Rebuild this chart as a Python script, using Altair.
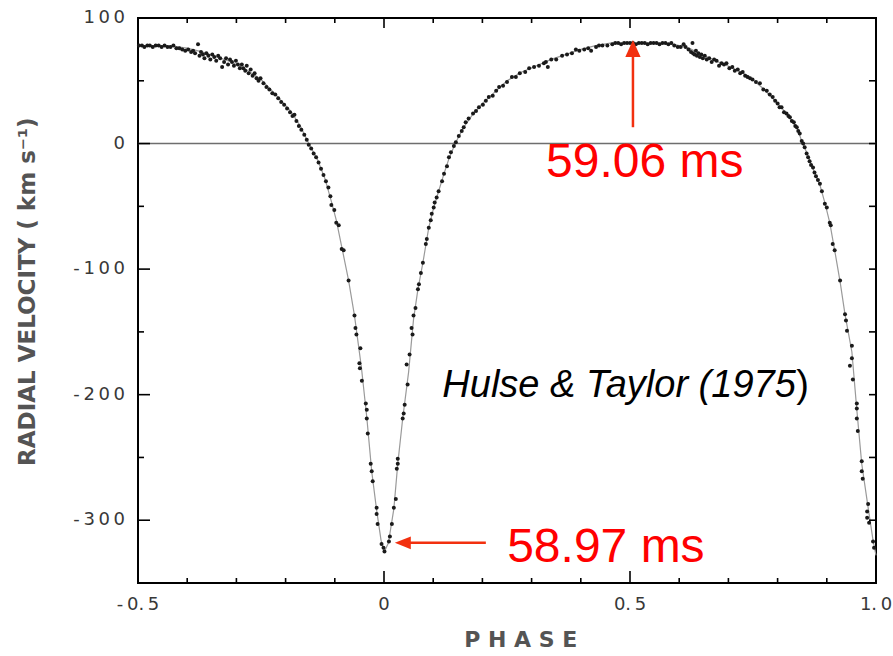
import altair as alt
import pandas as pd

# Observed radial velocities (km/s) against orbital phase
obs_phase = [
    -0.498, -0.492, -0.487, -0.481, -0.476, -0.470, -0.464, -0.458, -0.452, -0.446,
    -0.440, -0.434, -0.428, -0.422, -0.416,
    -0.410, -0.404, -0.398, -0.392, -0.388, -0.384, -0.378, -0.375, -0.372, -0.368,
    -0.365, -0.361, -0.357, -0.353, -0.349, -0.345, -0.341, -0.337, -0.333, -0.329,
    -0.325, -0.321, -0.317, -0.313, -0.309, -0.305, -0.301, -0.297, -0.293, -0.289,
    -0.286, -0.282, -0.279, -0.275, -0.271, -0.267, -0.263, -0.259, -0.255, -0.251,
    -0.245, -0.239, -0.233, -0.227, -0.221, -0.215, -0.209, -0.203, -0.197, -0.191,
    -0.186, -0.182, -0.178, -0.173, -0.168, -0.162, -0.157, -0.153,
    -0.148, -0.143, -0.138, -0.133, -0.128, -0.123, -0.118, -0.113, -0.109, -0.107,
    -0.101, -0.097, -0.092, -0.086, -0.082, -0.072, -0.060, -0.058, -0.056, -0.048,
    -0.050, -0.049, -0.045, -0.037, -0.035, -0.035, -0.033, -0.027, -0.025, -0.023,
    -0.015, -0.015, -0.013, -0.005, -0.001, 0.001,
    0.010, 0.012, 0.016, 0.020, 0.024, 0.026, 0.028, 0.028, 0.038, 0.040,
    0.042, 0.048, 0.046, 0.052, 0.056, 0.058, 0.060, 0.064, 0.069, 0.071,
    0.075, 0.079, 0.085, 0.087, 0.091, 0.095, 0.097, 0.101, 0.103, 0.107,
    0.111, 0.118, 0.122, 0.128, 0.132, 0.136, 0.142, 0.146, 0.152, 0.158,
    0.162, 0.166, 0.172, 0.181, 0.187, 0.193, 0.201, 0.207, 0.213, 0.221,
    0.228, 0.234, 0.242, 0.250, 0.260, 0.268, 0.276, 0.287, 0.295, 0.305,
    0.315, 0.325, 0.329, 0.333, 0.340, 0.350, 0.362, 0.372, 0.382, 0.390,
    0.397, 0.407, 0.415, 0.421, 0.431, 0.437, 0.444, 0.454, 0.464,
    0.470, 0.476, 0.482, 0.488, 0.494, 0.500, 0.506, 0.512, 0.518, 0.524,
    0.530, 0.536, 0.542, 0.548, 0.554, 0.560, 0.566, 0.572, 0.578, 0.584,
    0.590, 0.597, 0.603, 0.609,
    0.613, 0.619, 0.624, 0.627, 0.628, 0.631, 0.634, 0.636, 0.639, 0.642,
    0.645, 0.648, 0.652, 0.656, 0.661, 0.666, 0.671, 0.676, 0.681, 0.686,
    0.691, 0.696, 0.702, 0.708, 0.713, 0.719, 0.724, 0.729, 0.734, 0.739,
    0.744, 0.749, 0.756, 0.764, 0.771, 0.778, 0.784, 0.790, 0.795, 0.800,
    0.804, 0.808, 0.813, 0.818, 0.822, 0.825, 0.829, 0.833, 0.836, 0.839,
    0.842, 0.845, 0.849, 0.852, 0.855, 0.859, 0.862, 0.865, 0.868, 0.872,
    0.875, 0.878, 0.882, 0.886, 0.890, 0.896, 0.900, 0.906, 0.908, 0.912,
    0.916, 0.927, 0.937, 0.939, 0.941, 0.951, 0.951, 0.947, 0.953, 0.961,
    0.961, 0.961, 0.963, 0.971, 0.971, 0.973, 0.984, 0.982, 0.982, 0.986,
    0.994, 0.996,
]
obs_vel = [
    78, 78, 77, 78, 78, 77, 78, 78, 77, 78,
    77, 77, 78, 76, 76,
    75, 74, 75, 73, 74, 72, 79, 70, 73, 71,
    68, 72, 70, 67, 71, 69, 66, 70, 68, 61,
    65, 68, 63, 67, 65, 62, 66, 63, 60, 63,
    60, 58, 62, 56, 59, 54, 56, 52, 50, 52,
    48, 45, 43, 40, 39, 36, 33, 31, 28, 25,
    22, 23, 18, 14, 11, 7, 3, -1,
    -4, -8, -11, -15, -20, -25, -30, -35, -42, -49,
    -53, -63, -65, -84, -85, -109, -137, -147, -152, -163,
    -175, -179, -189, -207, -212, -219, -231, -255, -261, -269,
    -290, -295, -303, -319, -322, -325,
    -317, -313, -303, -290, -283, -259, -251, -255, -219, -215,
    -208, -192, -176, -168, -147, -152, -137, -131, -116, -112,
    -103, -95, -80, -76, -67, -61, -56, -51, -47, -43,
    -38, -30, -24, -18, -11, -7, -2, 1, 6, 10,
    13, 17, 20, 24, 26, 29, 31, 34, 37, 38,
    42, 45, 46, 49, 53, 53, 56, 57, 60, 61,
    62, 64, 65, 61, 67, 67, 70, 71, 72, 75,
    74, 75, 76, 74, 77, 78, 78, 78, 79,
    80, 80, 79, 80, 80, 80, 80, 79, 80, 80,
    80, 79, 80, 80, 80, 79, 80, 80, 79, 80,
    78, 77, 77, 79,
    77, 75, 73, 80, 72, 71, 74, 70, 72, 69,
    71, 68, 70, 67, 68, 65, 67, 66, 62, 64,
    63, 64, 60, 61, 58, 59, 56, 57, 54, 53,
    52, 51, 49, 48, 43, 42, 39, 37, 34, 32,
    29, 29, 25, 24, 22, 21, 18, 17, 14, 13,
    10, 8, 2, 0, -3, -8, -11, -14, -17, -19,
    -23, -26, -29, -32, -38, -48, -51, -63, -65, -80,
    -85, -109, -136, -141, -149, -161, -171, -177, -188, -207,
    -211, -219, -229, -253, -261, -267, -287, -293, -298, -302,
    -317, -322,
]

# Fitted velocity curve
curve_phase = [
    -0.500, -0.440, -0.400, -0.370, -0.340, -0.310, -0.280, -0.250, -0.220, -0.190,
    -0.170, -0.153, -0.135, -0.120, -0.107, -0.097, -0.086, -0.072, -0.060, -0.046,
    -0.035, -0.025, -0.015, -0.006, 0.001, 0.009, 0.020, 0.028, 0.038, 0.050,
    0.060, 0.069, 0.079, 0.091, 0.101, 0.111, 0.122, 0.132, 0.146, 0.162,
    0.180, 0.200, 0.225, 0.250, 0.280, 0.310, 0.340, 0.370, 0.400, 0.430,
    0.460, 0.500, 0.560, 0.590, 0.620, 0.650, 0.680, 0.710, 0.740, 0.770,
    0.800, 0.820, 0.840, 0.849, 0.860, 0.872, 0.886, 0.896, 0.906, 0.916,
    0.927, 0.937, 0.951, 0.961, 0.971, 0.984, 0.994, 1.000,
]
curve_vel = [
    78, 78, 76, 73, 69, 65, 59, 51, 39, 26,
    14, 0, -13, -28, -46, -61, -82, -109, -137, -178,
    -218, -261, -292, -316, -325, -318, -291, -255, -219, -182,
    -140, -116, -95, -67, -51, -38, -24, -12, 1, 13,
    23, 32, 41, 50, 57, 62, 67, 71, 75, 78,
    80, 80, 80, 79, 76, 70, 65, 60, 54, 44,
    32, 23, 12, 2, -8, -20, -33, -47, -63, -85,
    -110, -136, -166, -212, -255, -290, -316, -328,
]

# Frame ticks and axis labels (thin spaces give the lettered look of the tick labels)
x_minor = [-0.4, -0.3, -0.2, -0.1, 0.1, 0.2, 0.3, 0.4, 0.6, 0.7, 0.8, 0.9]
x_major = [0.0, 0.5]
y_minor = [50, -50, -150, -250]
y_major = [0, -100, -200, -300]
x_label_values = [-0.5, 0.0, 0.5, 1.0]
x_label_text = ["-\u20090.\u20095", "0", "0.\u20095", "1.\u20090"]
y_label_values = [100, 0, -100, -200, -300]
y_label_text = ["1\u20090\u20090", "0", "-\u20091\u20090\u20090", "-\u20092\u20090\u20090", "-\u20093\u20090\u20090"]

X_MIN, X_MAX = -0.5, 1.0
Y_MIN, Y_MAX = -350, 100

obs = pd.DataFrame({"phase": obs_phase, "vel": obs_vel})
curve = pd.DataFrame({"phase": curve_phase, "vel": curve_vel})

xs = alt.Scale(domain=[X_MIN, X_MAX], nice=False, zero=False)
ys = alt.Scale(domain=[Y_MIN, Y_MAX], nice=False, zero=False)

LABEL_FONT = "DejaVu Sans"
RED = "#ff0000"
ARROW = "#f2300f"
INK = "#1a1a1a"
GREY_TEXT = "#383838"
TITLE_GREY = "#545454"


def px(field="phase"):
    return alt.X(f"{field}:Q", scale=xs, axis=None)


def py(field="vel"):
    return alt.Y(f"{field}:Q", scale=ys, axis=None)


points = alt.Chart(obs).mark_circle(size=16, color=INK, opacity=1).encode(x=px(), y=py())

fit = alt.Chart(curve).mark_line(color="#9a9a9a", strokeWidth=1.2).encode(x=px(), y=py())

zero_line = alt.Chart(pd.DataFrame({"vel": [0]})).mark_rule(
    color="#6e6e6e", strokeWidth=1.5
).encode(y=py())


def x_ticks(values, edge, length):
    """Inward tick marks along the bottom or top frame edge."""
    return alt.Chart(pd.DataFrame({"phase": values})).mark_rule(
        color="black", strokeWidth=1.6, y2Offset=length
    ).encode(
        x=px(),
        y=alt.datum(edge, scale=ys, axis=None),
        y2=alt.datum(edge),
    )


def y_ticks(values, edge, length):
    """Inward tick marks along the left or right frame edge."""
    return alt.Chart(pd.DataFrame({"vel": values})).mark_rule(
        color="black", strokeWidth=1.6, x2Offset=length
    ).encode(
        y=py(),
        x=alt.datum(edge, scale=xs, axis=None),
        x2=alt.datum(edge),
    )


ticks = [
    x_ticks(x_minor, Y_MIN, -5), x_ticks(x_major, Y_MIN, -12),
    x_ticks(x_minor, Y_MAX, 5), x_ticks(x_major, Y_MAX, 10),
    y_ticks(y_minor, X_MIN, 6), y_ticks(y_major, X_MIN, 12),
    y_ticks(y_minor + y_major, X_MAX, -7),
]

# Tick labels along the bottom and left edges
x_tick_labels = alt.Chart(pd.DataFrame({"phase": x_label_values, "t": x_label_text})).mark_text(
    font=LABEL_FONT, fontSize=18, color=GREY_TEXT, baseline="middle", align="center", yOffset=22
).encode(x=px(), y=alt.datum(Y_MIN, scale=ys, axis=None), text="t:N")

y_tick_labels = alt.Chart(pd.DataFrame({"vel": y_label_values, "t": y_label_text})).mark_text(
    font=LABEL_FONT, fontSize=18, color=GREY_TEXT, baseline="middle", align="right", xOffset=-13
).encode(y=py(), x=alt.datum(X_MIN, scale=xs, axis=None), text="t:N")

x_title = alt.Chart(pd.DataFrame({"phase": [0.278], "t": ["P H A S E"]})).mark_text(
    font=LABEL_FONT, fontSize=22, fontWeight="bold", color=TITLE_GREY, baseline="middle", yOffset=57
).encode(x=px(), y=alt.datum(Y_MIN, scale=ys, axis=None), text="t:N")

y_title = alt.Chart(pd.DataFrame({"vel": [-118], "t": ["RADIAL   VELOCITY  ( km  s⁻¹)"]})).mark_text(
    font=LABEL_FONT, fontSize=23, fontWeight="bold", color=TITLE_GREY, baseline="middle",
    angle=270, xOffset=-110
).encode(y=py(), x=alt.datum(X_MIN, scale=xs, axis=None), text="t:N")

# Red arrows pointing at the velocity extremes
peak_x, peak_tip, peak_tail = 0.506, 82.5, 13.0
trough_y, trough_tip, trough_tail = -318.0, 0.022, 0.207

arrow_v = alt.Chart(pd.DataFrame({"phase": [peak_x], "vel": [peak_tail], "vel2": [peak_tip - 10]})).mark_rule(
    color=ARROW, strokeWidth=2.5
).encode(x=px(), y=py(), y2="vel2:Q")
head_v = alt.Chart(pd.DataFrame({"phase": [peak_x], "vel": [peak_tip]})).mark_point(
    shape="M0,0L0.45,1L-0.45,1Z", size=1156, filled=True, color=ARROW, opacity=1
).encode(x=px(), y=py())

arrow_h = alt.Chart(pd.DataFrame({"phase": [trough_tail], "phase2": [trough_tip + 0.025], "vel": [trough_y]})).mark_rule(
    color=ARROW, strokeWidth=2.5
).encode(x=px(), x2="phase2:Q", y=py())
head_h = alt.Chart(pd.DataFrame({"phase": [trough_tip], "vel": [trough_y]})).mark_point(
    shape="M0,0L1,-0.4L1,0.4Z", size=1024, filled=True, color=ARROW, opacity=1
).encode(x=px(), y=py())


def label(text, phase, vel, size, align="center", style="normal", color=RED):
    return alt.Chart(pd.DataFrame({"phase": [phase], "vel": [vel], "t": [text]})).mark_text(
        font="Liberation Sans", fontSize=size, fontStyle=style, color=color,
        align=align, baseline="alphabetic",
    ).encode(x=px(), y=py(), text="t:N")


texts = [
    label("59.06 ms", 0.530, -27, 48),
    label("58.97 ms", 0.451, -333, 48),
    label("Hulse & Taylor (1975", 0.837, -202, 38, align="right", style="italic", color="black"),
    label(")", 0.838, -202, 38, align="left", color="black"),
]

chart = alt.layer(
    zero_line, fit, points, *ticks, x_tick_labels, y_tick_labels, x_title, y_title,
    arrow_v, head_v, arrow_h, head_h, *texts
).properties(
    width=738, height=565,
    autosize=alt.AutoSizeParams(type="none"),
    padding={"left": 138, "top": 18, "right": 17, "bottom": 73},
).configure_view(stroke="black", strokeWidth=2)

chart.save("out.html", embed_options={"renderer": "svg", "actions": False})
